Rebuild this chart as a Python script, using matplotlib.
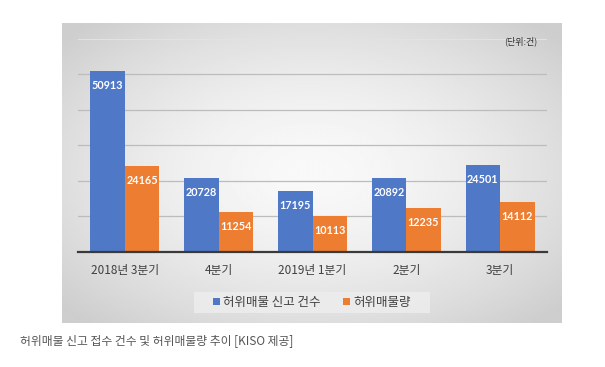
import numpy as np
import matplotlib
matplotlib.use("Agg")
import matplotlib.pyplot as plt
from matplotlib.patches import Rectangle

plt.rcParams['font.family'] = ['Noto Sans CJK KR', 'DejaVu Sans']

categories = ["2018년 3분기", "4분기", "2019년 1분기", "2분기", "3분기"]
reports = [50913, 20728, 17195, 20892, 24501]
volume = [24165, 11254, 10113, 12235, 14112]
series_names = ["허위매물 신고 건수", "허위매물량"]
unit_label = "(단위:건)"
caption = "허위매물 신고 접수 건수 및 허위매물량 추이 [KISO 제공]"

W, H = 605, 367
fig = plt.figure(figsize=(W / 100, H / 100), dpi=100)
fig.patch.set_facecolor("white")

# grey panel with radial gradient
px0, px1, py0, py1 = 62, 562, 23, 323
bg = fig.add_axes([px0 / W, 1 - py1 / H, (px1 - px0) / W, (py1 - py0) / H])
yy, xx = np.mgrid[-1:1:200j, -1:1:300j]
r = np.sqrt(xx ** 2 + yy ** 2)
vals = 0.975 - 0.17 * np.clip(r / 1.35, 0, 1) ** 1.6
bg.imshow(vals, cmap="gray", vmin=0, vmax=1, aspect="auto", extent=[0, 1, 0, 1],
          interpolation="bilinear")
bg.set_xlim(0, 1)
bg.set_ylim(0, 1)
# legend box (inside background axes, in panel fraction coordinates)
lx0, lx1, ly0, ly1 = 194, 430, 292, 313
bg.add_patch(Rectangle(((lx0 - px0) / (px1 - px0), (py1 - ly1) / (py1 - py0)),
                       (lx1 - lx0) / (px1 - px0), (ly1 - ly0) / (py1 - py0),
                       facecolor="#ededed", edgecolor="none", alpha=0.85))
bg.set_axis_off()

# main axes
ax_left, ax_right = 78, 547
base_y, top_y = 251.7, 38.7
ax = fig.add_axes([ax_left / W, 1 - base_y / H, (ax_right - ax_left) / W, (base_y - top_y) / H])
ax.patch.set_alpha(0)
x = np.arange(len(categories))
bw = 0.368
blue = "#4F78C6"
orange = "#ED7D31"
b1 = ax.bar(x - bw / 2, reports, bw, color=blue, zorder=3, label=series_names[0])
b2 = ax.bar(x + bw / 2, volume, bw, color=orange, zorder=3, label=series_names[1])
ax.set_ylim(0, 60000)
ax.set_xlim(-0.5, len(categories) - 0.5)
ax.set_yticks(np.arange(0, 50001, 10000))
ax.yaxis.grid(True, color="#bcbcbc", linewidth=0.9, zorder=0)
ax.axhline(60000, color="#e2e2e2", linewidth=0.8, zorder=0)
ax.tick_params(axis="y", left=False, labelleft=False)
ax.tick_params(axis="x", bottom=False, labelsize=8.5, labelcolor="#404040", pad=5)
ax.set_xticks(x)
ax.set_xticklabels(categories)
for s in ["top", "right", "left"]:
    ax.spines[s].set_visible(False)
ax.spines["bottom"].set_color("#3a3a3a")
ax.spines["bottom"].set_linewidth(1.6)
ax.spines["bottom"].set_zorder(4)

for bars, vals_ in ((b1, reports), (b2, volume)):
    for rect, v in zip(bars, vals_):
        ax.annotate(f"{v}", (rect.get_x() + rect.get_width() / 2, v),
                    xytext=(0, -6.5), textcoords="offset points", ha="center", va="top",
                    color="white", fontsize=7.8, fontweight="bold", zorder=5,
                    family=["Lato", "DejaVu Sans"])

leg = ax.legend(loc="center", bbox_to_anchor=((lx0 + lx1) / 2 / W, 1 - (ly0 + ly1) / 2 / H),
                bbox_transform=fig.transFigure, ncol=2, frameon=False, fontsize=9,
                handlelength=0.5, handleheight=0.5, handletextpad=0.3, columnspacing=1.8,
                labelcolor="#404040")

fig.text(537 / W, 1 - 41 / H, unit_label, ha="right", va="center", fontsize=6.5, color="#303030")
fig.text(20 / W, 1 - 341 / H, caption, ha="left", va="center", fontsize=8.5, color="#555555")

fig.savefig("out.png", dpi=100)
